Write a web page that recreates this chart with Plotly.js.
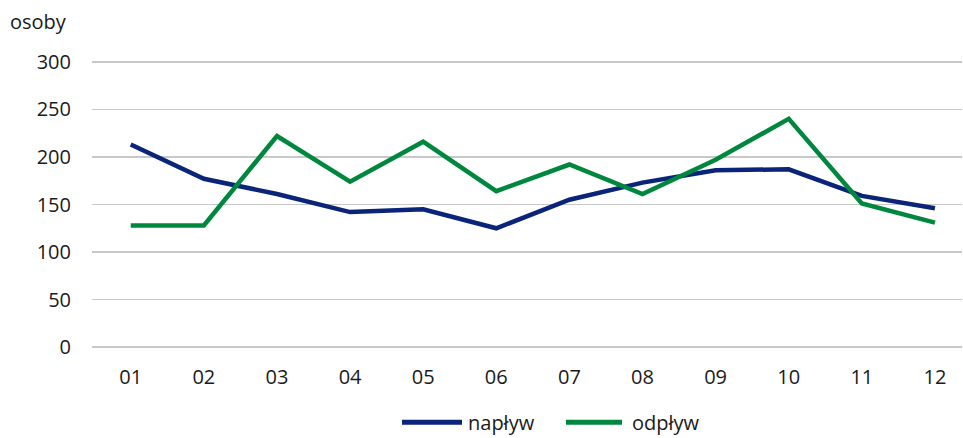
<!DOCTYPE html>
<html>
<head>
<meta charset="utf-8">
<script src="https://cdn.plot.ly/plotly-3.0.1.min.js"></script>
<style>html,body{margin:0;padding:0;background:#fff;}#chart{width:963px;height:438px;}</style>
</head>
<body>
<div id="chart"></div>
<script>
const months = ["01","02","03","04","05","06","07","08","09","10","11","12"];
const naplyw = [213, 177, 161, 142, 145, 125, 155, 173, 186, 187, 159, 146];
const odplyw = [128, 128, 222, 174, 216, 164, 192, 161, 197, 240, 151, 131];
const seriesNames = ["napływ", "odpływ"];
const seriesColors = ["#0a2479", "#00873e"];
const yTicks = [0, 50, 100, 150, 200, 250, 300];
const unitLabel = "osoby";

const font = {family: "Open Sans, Noto Sans, sans-serif", size: 20, color: "#1a1a1a"};

const traces = [
  {x: months, y: naplyw, name: seriesNames[0], type: "scatter", mode: "lines",
   line: {color: seriesColors[0], width: 4.5}},
  {x: months, y: odplyw, name: seriesNames[1], type: "scatter", mode: "lines",
   line: {color: seriesColors[1], width: 4.5}}
];

// custom legend (paper coordinates) to get the long legend lines
const legendY = -0.238;
const legendItems = [
  {x0: 0.3563, x1: 0.4253, tx: 0.4299},
  {x0: 0.5448, x1: 0.6092, tx: 0.6184}
];
const shapes = legendItems.map((it, i) => ({
  type: "line", xref: "paper", yref: "paper", x0: it.x0, x1: it.x1, y0: legendY, y1: legendY,
  line: {color: seriesColors[i], width: 5}
}));
const annotations = legendItems.map((it, i) => ({
  text: seriesNames[i], xref: "paper", yref: "paper", x: it.tx, y: legendY,
  xanchor: "left", yanchor: "middle", showarrow: false, font: font
}));
annotations.push({text: unitLabel, xref: "paper", yref: "paper", x: -0.096, y: 1.12,
                  xanchor: "left", yanchor: "middle", showarrow: false, font: font});

const layout = {
  width: 963, height: 438,
  margin: {l: 92, r: 1, t: 57, b: 86},
  paper_bgcolor: "#fff", plot_bgcolor: "#fff",
  font: font,
  showlegend: false,
  xaxis: {type: "category", range: [-0.53, 11.37], showgrid: false, zeroline: false,
          showline: false, ticks: "", ticklabelstandoff: 11, tickfont: font},
  yaxis: {range: [-5, 305], tickvals: yTicks, showgrid: true, gridcolor: "#c8c8c8", gridwidth: 1.6,
          zeroline: false, showline: false, ticks: "", ticklabelstandoff: 20, tickfont: font},
  shapes: shapes,
  annotations: annotations
};

Plotly.newPlot("chart", traces, layout, {displayModeBar: false, staticPlot: true});
</script>
</body>
</html>
